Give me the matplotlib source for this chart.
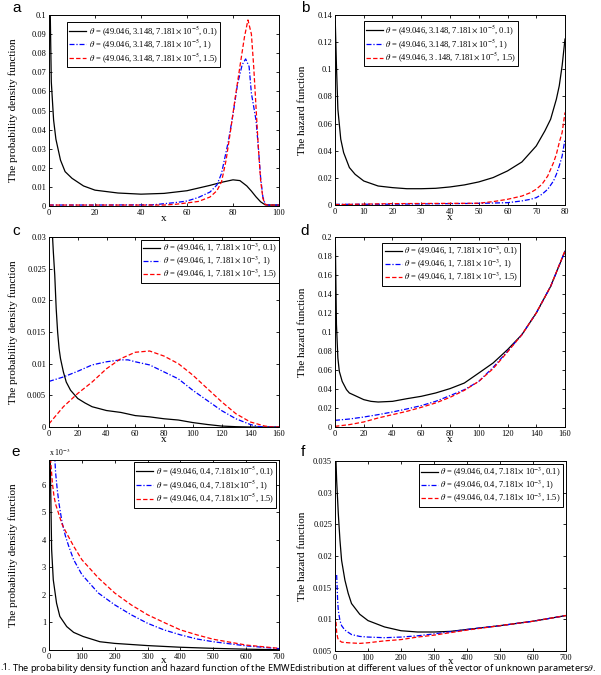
import numpy as np
import matplotlib
matplotlib.use('Agg')
import matplotlib.pyplot as plt
from matplotlib.ticker import FuncFormatter, MultipleLocator

plt.rcParams['font.family'] = ['Liberation Serif', 'DejaVu Serif']
plt.rcParams['mathtext.fontset'] = 'stix'

# Panel a - pdf, theta = (49.046, 3.148, 7.181e-5, gamma)
a_x0 = [0.3, 1, 2, 3, 5, 7, 10, 15, 20, 30, 40, 50, 60, 70, 75, 80, 83, 86, 88, 90, 92, 94, 96, 100]
a_y0 = [0.12, 0.065, 0.045, 0.035, 0.024, 0.018, 0.0145, 0.0105, 0.0083, 0.0068, 0.0062, 0.0066, 0.008,
        0.0108, 0.0124, 0.0137, 0.0133, 0.0105, 0.0078, 0.0048, 0.0022, 0.0006, 0.0005, 0.0005]
a_x1 = [0, 20, 45, 50, 55, 60, 65, 70, 73, 75, 78, 80, 82, 84, 85.5, 87, 88, 90, 91, 92, 93, 94, 95, 100]
a_y1 = [0.0005, 0.0005, 0.0006, 0.0012, 0.0018, 0.0026, 0.0045, 0.0073, 0.011, 0.017, 0.034, 0.048, 0.064,
        0.074, 0.077, 0.073, 0.059, 0.045, 0.031, 0.015, 0.0047, 0.001, 0.0005, 0.0005]
a_x2 = [0, 20, 50, 55, 60, 65, 70, 73, 75, 77, 79, 81, 83, 85, 86.5, 88, 89, 90, 91, 92, 93, 94, 95, 100]
a_y2 = [0.0005, 0.0005, 0.0005, 0.0009, 0.0016, 0.0024, 0.0047, 0.008, 0.0126, 0.024, 0.04, 0.057, 0.073,
        0.0886, 0.0974, 0.09, 0.073, 0.052, 0.031, 0.0135, 0.004, 0.0008, 0.0005, 0.0005]

# Panel b - hazard, same theta
b_x0 = [0.1, 0.5, 1, 2, 3, 5, 7, 10, 15, 20, 25, 30, 35, 40, 45, 50, 55, 60, 65, 70, 73, 75, 77, 78, 79, 80]
b_y0 = [0.135, 0.103, 0.0706, 0.0485, 0.0386, 0.0276, 0.0226, 0.0177, 0.014, 0.0128, 0.012, 0.012, 0.0123,
        0.0133, 0.0148, 0.017, 0.0202, 0.0251, 0.0317, 0.0435, 0.0546, 0.0632, 0.078, 0.0878, 0.1026, 0.1223]
b_x1 = [0, 20, 40, 50, 60, 65, 68, 70, 72, 74, 76, 77, 78, 79, 80]
b_y1 = [0.0005, 0.0006, 0.001, 0.0012, 0.0017, 0.003, 0.0042, 0.0054, 0.0079, 0.0116, 0.0177, 0.0226,
        0.0288, 0.036, 0.0485]
b_x2 = [0, 20, 40, 50, 55, 60, 65, 68, 70, 72, 74, 76, 77, 78, 79, 80]
b_y2 = [0.0003, 0.001, 0.0012, 0.0013, 0.0025, 0.0042, 0.0066, 0.0091, 0.0116, 0.0153, 0.0214, 0.0312,
        0.0374, 0.046, 0.0534, 0.0682]

# Panel c - pdf, theta = (49.046, 1, 7.181e-3, gamma)
c_x0 = [1, 2, 3, 4, 5, 6, 7, 8, 10, 12, 15, 20, 25, 30, 40, 50, 60, 70, 80, 90, 100, 110, 120, 130, 140, 160]
c_y0 = [0.045, 0.032, 0.0277, 0.024, 0.0187, 0.015, 0.0124, 0.0108, 0.0087, 0.0071, 0.0058, 0.0045, 0.0038,
        0.0032, 0.0026, 0.0023, 0.0018, 0.0016, 0.0013, 0.0011, 0.0007, 0.0004, 0.00015, 0.00005, 0.0, 0.0]
c_x1 = [0, 10, 20, 30, 40, 50, 55, 60, 70, 80, 90, 100, 110, 120, 130, 140, 145, 150, 160]
c_y1 = [0.0072, 0.0079, 0.0088, 0.0098, 0.0103, 0.0106, 0.0106, 0.0103, 0.0098, 0.0087, 0.0076, 0.0058,
        0.0042, 0.0026, 0.0013, 0.0004, 0.0001, 0.0, 0.0]
c_x2 = [0, 10, 20, 30, 40, 50, 60, 70, 80, 90, 100, 110, 120, 130, 140, 150, 155, 160]
c_y2 = [0.0005, 0.0032, 0.0053, 0.0071, 0.0092, 0.0108, 0.0118, 0.012, 0.0112, 0.01, 0.0082, 0.0061,
        0.004, 0.0021, 0.0008, 0.00015, 0.0, 0.0]

# Panel d - hazard, same theta
d_x0 = [0.2, 1, 2, 3, 5, 8, 10, 15, 20, 25, 30, 40, 50, 60, 70, 80, 90, 100, 110, 120, 130, 140, 150, 160]
d_y0 = [0.2, 0.108, 0.0726, 0.0586, 0.048, 0.0393, 0.0358, 0.0323, 0.0288, 0.027, 0.0263, 0.027, 0.0298,
        0.0323, 0.0358, 0.0404, 0.0463, 0.0568, 0.0674, 0.0814, 0.0972, 0.12, 0.148, 0.185]
d_x1 = [0, 10, 20, 30, 40, 50, 60, 70, 80, 90, 100, 110, 120, 130, 140, 150, 160]
d_y1 = [0.007, 0.0084, 0.0105, 0.013, 0.0158, 0.019, 0.0225, 0.027, 0.033, 0.0393, 0.048, 0.0628, 0.0796,
        0.0972, 0.12, 0.148, 0.185]
d_x2 = [0, 10, 20, 30, 40, 50, 60, 70, 80, 90, 100, 110, 120, 130, 140, 150, 160]
d_y2 = [0.0007, 0.0025, 0.0053, 0.0095, 0.013, 0.0165, 0.0207, 0.0253, 0.0312, 0.0386, 0.048, 0.0614,
        0.079, 0.0972, 0.12, 0.148, 0.1856]

# Panel e - pdf, theta = (49.046, 0.4, 7.181e-5, gamma)
e_x0 = [3, 8, 13, 23, 33, 54, 75, 104, 155, 200, 300, 400, 500, 600, 700]
e_y0 = [0.0075, 0.00365, 0.00255, 0.0017, 0.00122, 0.00085, 0.00064, 0.00049, 0.0003, 0.00024, 0.00016,
        0.0001, 0.00006, 0.00003, 0.00001]
e_x1 = [14, 18, 20, 25, 30, 40, 50, 60, 75, 100, 150, 200, 250, 300, 350, 400, 450, 500, 600, 700]
e_y1 = [0.0075, 0.0069, 0.00645, 0.00584, 0.00535, 0.00462, 0.00414, 0.00377, 0.00328, 0.00274, 0.00207,
        0.00164, 0.00128, 0.00097, 0.00073, 0.00055, 0.0004, 0.0003, 0.00015, 0.00005]
e_x2 = [3, 10, 15, 20, 30, 40, 50, 75, 100, 150, 200, 250, 300, 350, 400, 450, 500, 600, 700]
e_y2 = [0.0072, 0.0061, 0.0056, 0.0053, 0.00493, 0.00456, 0.00432, 0.00377, 0.00328, 0.00262, 0.00207,
        0.00164, 0.00128, 0.001, 0.00073, 0.00055, 0.00039, 0.00018, 0.00006]

# Panel f - hazard, theta = (49.046, 0.4, 7.181e-3, gamma)
f_x0 = [3, 5, 8, 10, 15, 20, 30, 40, 50, 75, 100, 150, 200, 250, 300, 350, 400, 500, 600, 700]
f_y0 = [0.035, 0.0319, 0.0288, 0.0267, 0.0225, 0.0193, 0.0162, 0.0141, 0.0125, 0.0108, 0.0098, 0.0088,
        0.0082, 0.008, 0.008, 0.0081, 0.0084, 0.009, 0.0097, 0.0106]
f_x1 = [5, 8, 10, 15, 20, 30, 50, 75, 100, 150, 200, 250, 300, 400, 500, 600, 700]
f_y1 = [0.017, 0.013, 0.0114, 0.0098, 0.009, 0.0083, 0.0076, 0.0073, 0.0072, 0.0071, 0.0072, 0.0074,
        0.0077, 0.0084, 0.009, 0.0097, 0.0106]
f_x2 = [3, 5, 8, 10, 20, 40, 75, 100, 150, 200, 250, 300, 400, 500, 600, 700]
f_y2 = [0.0096, 0.008, 0.0071, 0.0068, 0.0064, 0.0063, 0.0062, 0.0063, 0.0066, 0.0068, 0.0072, 0.0075,
        0.0083, 0.009, 0.0097, 0.0106]

labels_a = [r'$\theta$ = (49.046, 3.148, 7.181$\times$ 10$^{-5}$, 0.1)',
            r'$\theta$ = (49.046, 3.148, 7.181$\times$ 10$^{-5}$, 1)',
            r'$\theta$ = (49.046, 3.148, 7.181$\times$ 10$^{-5}$, 1.5)']
labels_b = [r'$\theta$ = (49.046, 3.148, 7.181$\times$ 10$^{-5}$, 0.1)',
            r'$\theta$ = (49.046, 3.148, 7.181$\times$ 10$^{-5}$, 1)',
            r'$\theta$ = (49.046, 3 .148, 7.181$\times$ 10$^{-5}$, 1.5)']
labels_cd = [r'$\theta$ = (49.046, 1, 7.181$\times$ 10$^{-3}$, 0.1)',
             r'$\theta$ = (49.046, 1, 7.181$\times$ 10$^{-3}$, 1)',
             r'$\theta$ = (49.046, 1, 7.181$\times$ 10$^{-3}$, 1.5)']
labels_e = [r'$\theta$ = (49.046, 0.4, 7.181$\times$10$^{-5}$, 0.1)',
            r'$\theta$ = (49.046, 0.4, 7.181$\times$10$^{-5}$, 1)',
            r'$\theta$ = (49.046, 0.4, 7.181$\times$10$^{-5}$, 1.5)']
labels_f = [r'$\theta$ = (49.046, 0.4, 7.181$\times$ 10$^{-3}$, 0.1)',
            r'$\theta$ = (49.046, 0.4, 7.181$\times$ 10$^{-3}$, 1)',
            r'$\theta$ = (49.046, 0.4, 7.181$\times$ 10$^{-3}$, 1.5)']

PDF_LABEL = 'The probability density function'
HAZ_LABEL = 'The hazard function'

W, H = 601, 675
fig = plt.figure(figsize=(W / 100, H / 100), dpi=100)


def px_axes(left, top, right, bottom):
    return fig.add_axes([left / W, 1 - bottom / H, (right - left) / W, (bottom - top) / H])


STYLES = [dict(color='black', ls='-'),
          dict(color='blue', ls=(0, (4, 1.5, 1, 1.5))),
          dict(color='red', ls=(0, (3.5, 1.8)))]


def draw(ax, curves, labels, xlim, ylim, xstep, ystep, ylabel, leg_loc, leg_anchor, ylab_x, fmt=None):
    for (xs, ys), st, lab in zip(curves, STYLES, labels):
        ax.plot(xs, ys, lw=0.9, label=lab, **st)
    ax.set_xlim(*xlim)
    ax.set_ylim(*ylim)
    ax.xaxis.set_major_locator(MultipleLocator(xstep))
    ax.yaxis.set_major_locator(MultipleLocator(ystep))
    ax.xaxis.set_major_formatter(FuncFormatter(lambda v, p: '%g' % round(v, 6)))
    ax.yaxis.set_major_formatter(fmt or FuncFormatter(lambda v, p: '%g' % round(v, 6)))
    ax.tick_params(direction='in', top=True, right=True, length=2.5, width=0.6,
                   labelsize=6, pad=2)
    for s in ax.spines.values():
        s.set_linewidth(0.7)
    ax.set_xlabel('x', fontsize=8, labelpad=0)
    ax.xaxis.set_label_coords(0.5, -0.04)
    ax.set_ylabel(ylabel, fontsize=8)
    ax.yaxis.set_label_coords(ylab_x, 0.5)
    leg = ax.legend(loc=leg_loc, bbox_to_anchor=leg_anchor, fontsize=6.1, fancybox=False,
                    edgecolor='black', framealpha=1, handlelength=2.0, handletextpad=0.3,
                    labelspacing=0.0, borderpad=0.25, borderaxespad=0)
    leg.get_frame().set_linewidth(0.7)


ax_a = px_axes(49, 15, 279, 206)
draw(ax_a, [(a_x0, a_y0), (a_x1, a_y1), (a_x2, a_y2)], labels_a, (0, 100), (0, 0.1), 20, 0.01,
     PDF_LABEL, 'upper center', (0.41, 0.965), -0.135)

ax_b = px_axes(335, 15, 565, 205)
draw(ax_b, [(b_x0, b_y0), (b_x1, b_y1), (b_x2, b_y2)], labels_b, (0, 80), (0, 0.14), 10, 0.02,
     HAZ_LABEL, 'upper center', (0.461, 0.968), -0.122)

ax_c = px_axes(49, 237, 279, 427)
draw(ax_c, [(c_x0, c_y0), (c_x1, c_y1), (c_x2, c_y2)], labels_cd, (0, 160), (0, 0.03), 20, 0.005,
     PDF_LABEL, 'upper right', (1.0, 0.984), -0.135)

ax_d = px_axes(335, 237, 565, 427)
draw(ax_d, [(d_x0, d_y0), (d_x1, d_y1), (d_x2, d_y2)], labels_cd, (0, 160), (0, 0.2), 20, 0.02,
     HAZ_LABEL, 'upper center', (0.506, 0.968), -0.122)

ax_e = px_axes(49, 460, 279, 650)
draw(ax_e, [(e_x0, e_y0), (e_x1, e_y1), (e_x2, e_y2)], labels_e, (0, 700), (0, 0.0069), 100, 0.001,
     PDF_LABEL, 'upper right', (0.987, 0.989), -0.135,
     fmt=FuncFormatter(lambda v, p: '%g' % round(v * 1e3, 6)))
ax_e.text(0.0, 1.012, r'x 10$^{-3}$', transform=ax_e.transAxes, fontsize=5.6, ha='left', va='bottom')

ax_f = px_axes(335, 461, 566, 651)
draw(ax_f, [(f_x0, f_y0), (f_x1, f_y1), (f_x2, f_y2)], labels_f, (0, 700), (0.005, 0.035), 100, 0.005,
     HAZ_LABEL, 'upper right', (0.987, 0.984), -0.122)

# the bottom row's x labels sit a little higher so they only touch the caption
for ax in (ax_e, ax_f):
    ax.xaxis.set_label_coords(0.5, -0.03)

# panel letters
for lab, x, y in [('a', 17, 8), ('b', 305, 8), ('c', 16, 231), ('d', 305, 231), ('e', 16, 452), ('f', 303, 452)]:
    fig.text(x / W, 1 - y / H, lab, fontsize=11, family='Liberation Sans', ha='center', va='center')

# caption (left part of the figure number is cut in the source)
fig.text(0.5 / W, 1 - 668 / H, '.1.', fontsize=6.6, family='Noto Sans', weight='bold',
         ha='left', va='center')
fig.text(12 / W, 1 - 668.5 / H,
         'The probability density function and hazard function of the EMWEdistribution at different '
         r'values of the vector of unknown parameters$\theta$.',
         fontsize=6.6, family='Noto Sans', ha='left', va='center')

fig.savefig('out.png', dpi=100)
